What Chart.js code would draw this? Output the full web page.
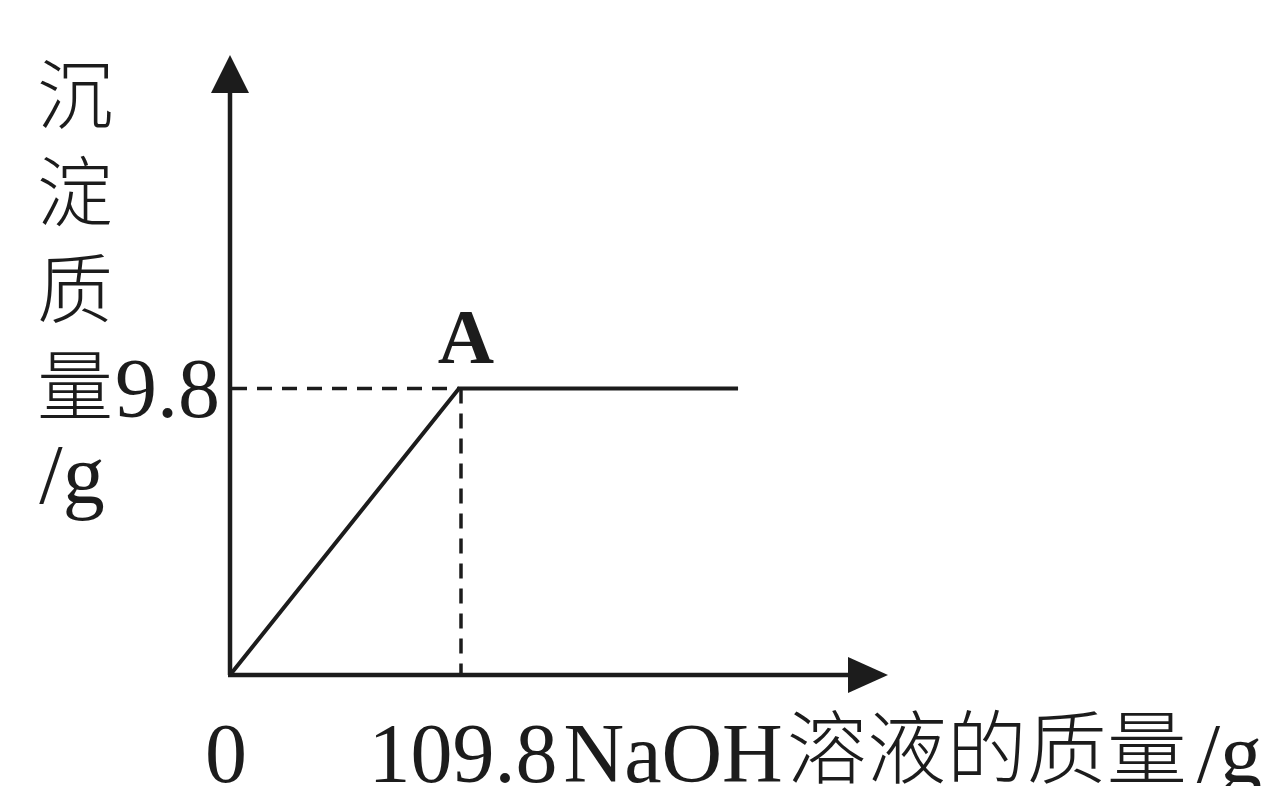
<!DOCTYPE html>
<html>
<head>
<meta charset="utf-8">
<title>沉淀质量</title>
<script src="https://cdn.jsdelivr.net/npm/chart.js@4"></script>
<style>
  html, body { margin: 0; padding: 0; background: #fff; }
  canvas { display: block; }
</style>
</head>
<body>
<canvas id="chart" width="1263" height="786"></canvas>
<script>
// NaOH solution mass (g) vs precipitate mass (g)
const naohMass = [0, 109.8, 243.6];
const precipitateMass = [0, 9.8, 9.8];

const xTickLabels = ['0', '109.8'];
const xTickValues = [0, 109.8];
const yTickLabels = ['9.8'];
const yTickValues = [9.8];

const xAxisMax = 315.5;
const yAxisMax = 21.2;

const yTitleChars = ['沉', '淀', '质', '量'];
const xTitleLatin = 'NaOH';
const xTitleCjk = '溶液的质量';
const unitText = '/g';
const pointLabel = 'A';

const ink = '#1c1c1c';
const serif = '"Liberation Serif", "DejaVu Serif", serif';
const cjk = '"Noto Sans CJK SC", "Noto Sans", sans-serif';

const points = naohMass.map((x, i) => ({ x: x, y: precipitateMass[i] }));

const axesPlugin = {
  id: 'axesPlugin',
  beforeDatasetsDraw(chart) {
    const ctx = chart.ctx;
    const xs = chart.scales.x;
    const ys = chart.scales.y;
    const x0 = xs.getPixelForValue(0);
    const y0 = ys.getPixelForValue(0);
    const xEnd = xs.getPixelForValue(xAxisMax);
    const yEnd = ys.getPixelForValue(yAxisMax);

    ctx.save();
    ctx.strokeStyle = ink;
    ctx.fillStyle = ink;
    ctx.lineWidth = 4.5;
    ctx.lineCap = 'butt';

    // axes
    ctx.beginPath();
    ctx.moveTo(x0, y0);
    ctx.lineTo(x0, yEnd + 30);
    ctx.moveTo(x0 - 2, y0);
    ctx.lineTo(xEnd - 30, y0);
    ctx.stroke();

    // arrow heads
    ctx.beginPath();
    ctx.moveTo(x0, yEnd);
    ctx.lineTo(x0 - 19, yEnd + 38);
    ctx.lineTo(x0 + 19, yEnd + 38);
    ctx.closePath();
    ctx.fill();

    ctx.beginPath();
    ctx.moveTo(xEnd, y0);
    ctx.lineTo(xEnd - 40, y0 - 18);
    ctx.lineTo(xEnd - 40, y0 + 18);
    ctx.closePath();
    ctx.fill();

    // dashed guides to point A
    const ax = xs.getPixelForValue(naohMass[1]);
    const ay = ys.getPixelForValue(precipitateMass[1]);
    ctx.lineWidth = 3.5;
    ctx.setLineDash([15, 10]);
    ctx.beginPath();
    ctx.moveTo(x0 + 2, ay);
    ctx.lineTo(ax, ay);
    ctx.moveTo(ax + 2, ay);
    ctx.lineTo(ax + 2, y0);
    ctx.stroke();
    ctx.restore();
  },
  afterDraw(chart) {
    const ctx = chart.ctx;
    const xs = chart.scales.x;
    const ys = chart.scales.y;
    const x0 = xs.getPixelForValue(0);
    const y0 = ys.getPixelForValue(0);

    ctx.save();
    ctx.fillStyle = ink;
    ctx.textBaseline = 'alphabetic';

    // x tick labels
    ctx.font = '84px ' + serif;
    ctx.textAlign = 'center';
    xTickValues.forEach((v, i) => {
      ctx.fillText(xTickLabels[i], xs.getPixelForValue(v) + (i === 0 ? -4 : 4), y0 + 107);
    });

    // y tick labels
    ctx.textAlign = 'right';
    yTickValues.forEach((v, i) => {
      ctx.fillText(yTickLabels[i], x0 - 10, ys.getPixelForValue(v) + 29);
    });

    // x title
    const tickRight = xs.getPixelForValue(xTickValues[1]) + 4 + ctx.measureText(xTickLabels[1]).width / 2;
    let tx = tickRight + 6;
    ctx.textAlign = 'left';
    ctx.fillText(xTitleLatin, tx, y0 + 107);
    tx += ctx.measureText(xTitleLatin).width + 4;
    ctx.font = '300 80px ' + cjk;
    ctx.fillText(xTitleCjk, tx, y0 + 102);
    tx += ctx.measureText(xTitleCjk).width + 10;
    ctx.font = '84px ' + serif;
    ctx.fillText(unitText, tx, y0 + 107);

    // y title, stacked vertically
    ctx.textAlign = 'center';
    ctx.textBaseline = 'middle';
    ctx.font = '300 76px ' + cjk;
    yTitleChars.forEach((c, i) => {
      ctx.fillText(c, 75, ys.getPixelForValue(precipitateMass[1]) - 294 + i * 97);
    });
    ctx.textBaseline = 'alphabetic';
    ctx.font = '84px ' + serif;
    ctx.fillText(unitText, 72, ys.getPixelForValue(precipitateMass[1]) + 115);

    // point label
    ctx.font = 'bold 78px ' + serif;
    ctx.fillText(pointLabel, xs.getPixelForValue(naohMass[1]) + 7, ys.getPixelForValue(precipitateMass[1]) - 25);
    ctx.restore();
  }
};

new Chart(document.getElementById('chart').getContext('2d'), {
  type: 'scatter',
  data: {
    datasets: [{
      data: points,
      showLine: true,
      borderColor: ink,
      borderWidth: 4,
      pointRadius: 0,
      tension: 0,
      clip: false
    }]
  },
  options: {
    responsive: false,
    animation: false,
    devicePixelRatio: 1,
    layout: { padding: { left: 230, right: 375, top: 55, bottom: 111 } },
    plugins: {
      legend: { display: false },
      tooltip: { enabled: false }
    },
    scales: {
      x: { type: 'linear', display: false, min: 0, max: xAxisMax },
      y: { type: 'linear', display: false, min: 0, max: yAxisMax }
    }
  },
  plugins: [axesPlugin]
});
</script>
</body>
</html>
